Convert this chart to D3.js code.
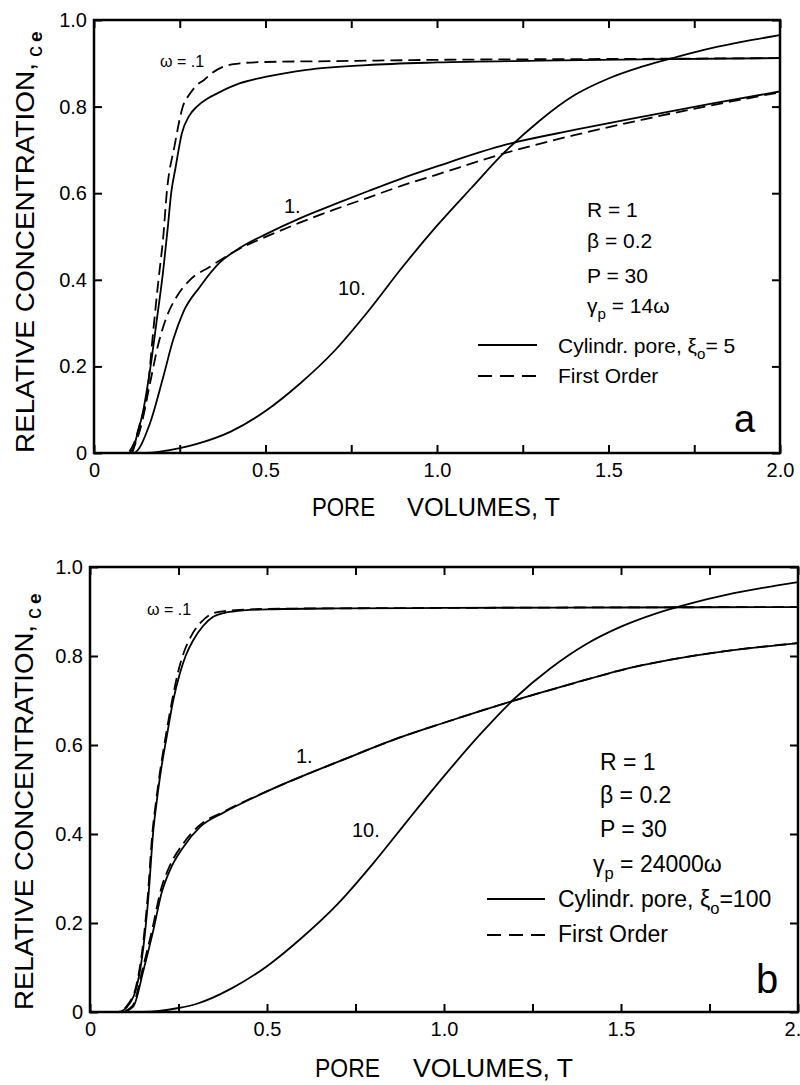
<!DOCTYPE html>
<html>
<head>
<meta charset="utf-8">
<script src="https://cdn.jsdelivr.net/npm/d3@7"></script>
<style>
  body { margin: 0; background: #fff; }
  svg { display: block; }
  text { font-family: "Liberation Sans", Arial, sans-serif; fill: #000; }
</style>
</head>
<body>
<svg id="chart" width="800" height="1085"></svg>
<script>
// axis ticks
const xTicks = [0, 0.25, 0.5, 0.75, 1.0, 1.25, 1.5, 1.75, 2.0];
const xLabels = ['0', '', '0.5', '', '1.0', '', '1.5', '', '2.0'];
const yTicks = [0, 0.2, 0.4, 0.6, 0.8, 1.0];
const yLabels = ['0', '0.2', '0.4', '0.6', '0.8', '1.0'];

// panel a: cylindrical pore, xi_o = 5 (solid) and first order (dashed)
const aT_w01_cyl = [0, 0.11, 0.125, 0.144, 0.163, 0.183, 0.202, 0.215, 0.225, 0.238, 0.256, 0.277, 0.30, 0.33, 0.358, 0.426, 0.503, 0.62, 0.795, 1.0, 1.3, 1.6, 2.0];
const aC_w01_cyl = [0, 0, 0.04, 0.10, 0.19, 0.307, 0.423, 0.52, 0.60, 0.66, 0.738, 0.778, 0.80, 0.818, 0.83, 0.854, 0.869, 0.885, 0.896, 0.902, 0.906, 0.909, 0.912];
const aT_w01_fo = [0, 0.095, 0.115, 0.134, 0.154, 0.173, 0.188, 0.202, 0.212, 0.235, 0.259, 0.28, 0.30, 0.32, 0.345, 0.377, 0.426, 0.5, 0.7, 1.0, 1.5, 2.0];
const aC_w01_fo = [0, 0, 0.02, 0.068, 0.13, 0.284, 0.40, 0.50, 0.60, 0.71, 0.80, 0.83, 0.85, 0.861, 0.878, 0.892, 0.90, 0.903, 0.905, 0.908, 0.91, 0.912];
const aT_w1_cyl = [0, 0.115, 0.163, 0.202, 0.231, 0.26, 0.309, 0.367, 0.426, 0.5, 0.6, 0.7, 0.8, 0.9, 1.0, 1.2, 1.4, 1.6, 1.8, 2.0];
const aC_w1_cyl = [0, 0, 0.068, 0.176, 0.262, 0.325, 0.384, 0.44, 0.474, 0.505, 0.542, 0.574, 0.605, 0.635, 0.662, 0.712, 0.746, 0.777, 0.807, 0.835];
const aT_w1_fo = [0, 0.1, 0.134, 0.163, 0.188, 0.212, 0.241, 0.28, 0.338, 0.377, 0.435, 0.5, 0.6, 0.7, 0.8, 0.9, 1.0, 1.2, 1.4, 1.6, 1.8, 2.0];
const aC_w1_fo = [0, 0, 0.053, 0.16, 0.253, 0.315, 0.361, 0.40, 0.43, 0.45, 0.476, 0.499, 0.532, 0.562, 0.59, 0.618, 0.643, 0.693, 0.734, 0.77, 0.803, 0.833];
const aT_w10_cyl = [0, 0.15, 0.25, 0.3, 0.4, 0.5, 0.6, 0.7, 0.8, 0.9, 1.0, 1.1, 1.2, 1.3, 1.4, 1.5, 1.6, 1.7, 1.8, 1.9, 2.0];
const aC_w10_cyl = [0, 0, 0.011, 0.021, 0.05, 0.097, 0.16, 0.235, 0.328, 0.43, 0.525, 0.612, 0.697, 0.768, 0.826, 0.865, 0.893, 0.915, 0.935, 0.951, 0.965];

// panel b: cylindrical pore, xi_o = 100 (solid) and first order (dashed)
const bT_w01_cyl = [0, 0.08, 0.113, 0.132, 0.151, 0.165, 0.179, 0.188, 0.198, 0.217, 0.235, 0.254, 0.27, 0.292, 0.32, 0.348, 0.38, 0.404, 0.5, 0.7, 1.0, 1.5, 2.0];
const bC_w01_cyl = [0, 0, 0.02, 0.057, 0.147, 0.259, 0.409, 0.47, 0.53, 0.62, 0.70, 0.761, 0.80, 0.836, 0.868, 0.888, 0.897, 0.90, 0.905, 0.907, 0.908, 0.909, 0.91];
const bT_w01_fo = [0, 0.078, 0.11, 0.13, 0.149, 0.163, 0.177, 0.186, 0.196, 0.214, 0.232, 0.25, 0.266, 0.288, 0.316, 0.345, 0.38, 0.41, 0.5, 1.0, 2.0];
const bC_w01_fo = [0, 0, 0.02, 0.057, 0.147, 0.259, 0.409, 0.47, 0.53, 0.62, 0.70, 0.768, 0.81, 0.848, 0.878, 0.895, 0.901, 0.903, 0.906, 0.908, 0.91];
const bT_w1_cyl = [0, 0.09, 0.122, 0.151, 0.179, 0.202, 0.226, 0.264, 0.311, 0.377, 0.452, 0.546, 0.6, 0.7, 0.876, 1.0, 1.186, 1.35, 1.535, 1.75, 2.0];
const bC_w1_cyl = [0, 0, 0.012, 0.094, 0.184, 0.267, 0.319, 0.371, 0.416, 0.448, 0.478, 0.512, 0.53, 0.562, 0.617, 0.65, 0.697, 0.735, 0.775, 0.806, 0.829];
const bT_w1_fo = [0, 0.088, 0.12, 0.149, 0.177, 0.2, 0.224, 0.262, 0.31, 0.377, 0.452, 0.546, 0.6, 0.7, 0.876, 1.0, 1.186, 1.35, 1.535, 1.75, 2.0];
const bC_w1_fo = [0, 0, 0.014, 0.098, 0.19, 0.274, 0.326, 0.377, 0.42, 0.45, 0.479, 0.512, 0.53, 0.562, 0.617, 0.65, 0.697, 0.735, 0.775, 0.806, 0.829];
const bT_w10_cyl = [0, 0.15, 0.25, 0.3, 0.4, 0.5, 0.6, 0.7, 0.8, 0.9, 1.0, 1.1, 1.2, 1.3, 1.4, 1.5, 1.6, 1.7, 1.8, 1.9, 2.0];
const bC_w10_cyl = [0, 0, 0.009, 0.018, 0.053, 0.103, 0.168, 0.243, 0.334, 0.433, 0.53, 0.622, 0.705, 0.772, 0.826, 0.866, 0.896, 0.919, 0.938, 0.953, 0.966];

const svg = d3.select('#chart');

function addText(g, x, y, parts, size, anchor) {
  const t = g.append('text').attr('x', x).attr('y', y)
    .attr('font-size', size).attr('text-anchor', anchor || 'start');
  let shift = 0;
  parts.forEach(p => {
    const sub = typeof p !== 'string';
    const want = sub ? 0.3 * size : 0;
    t.append('tspan').attr('dy', want - shift)
      .attr('font-size', sub ? size * 0.72 : size)
      .text(sub ? p.sub : p);
    shift = want;
  });
  return t;
}

function drawPanel(box, series, o) {
  const x = d3.scaleLinear().domain([0, 2]).range([box.left, box.right]);
  const y = d3.scaleLinear().domain([0, 1]).range([box.bottom, box.top]);
  const g = svg.append('g');

  const line = d3.line().x(d => x(d[0])).y(d => y(d[1])).curve(d3.curveMonotoneX);
  // dashed first so solid lines sit on top
  series.slice().sort((p, q) => q.dashed - p.dashed).forEach(s => {
    g.append('path').datum(d3.zip(s.t, s.c)).attr('d', line)
      .attr('fill', 'none').attr('stroke', '#000').attr('stroke-width', 1.8)
      .attr('stroke-dasharray', s.dashed ? '12,6' : null);
  });

  const styleAxis = sel => {
    sel.select('.domain').remove();
    sel.selectAll('line').attr('stroke', '#000').attr('stroke-width', 2);
    sel.selectAll('text').attr('font-size', 20).attr('font-family', '"Liberation Sans", Arial, sans-serif');
  };
  g.append('g').attr('transform', `translate(0,${box.bottom})`)
    .call(d3.axisBottom(x).tickValues(xTicks).tickFormat((d, i) => xLabels[i]).tickSize(-8).tickPadding(10))
    .call(styleAxis);
  g.append('g').attr('transform', `translate(0,${box.top})`)
    .call(d3.axisTop(x).tickValues(xTicks).tickFormat('').tickSize(-8))
    .call(styleAxis);
  g.append('g').attr('transform', `translate(${box.left},0)`)
    .call(d3.axisLeft(y).tickValues(yTicks).tickFormat((d, i) => yLabels[i]).tickSize(-8).tickPadding(7))
    .call(styleAxis);
  g.append('g').attr('transform', `translate(${box.right},0)`)
    .call(d3.axisRight(y).tickValues(yTicks).tickFormat('').tickSize(-8))
    .call(styleAxis);

  g.append('rect').attr('x', box.left).attr('y', box.top)
    .attr('width', box.right - box.left).attr('height', box.bottom - box.top)
    .attr('fill', 'none').attr('stroke', '#000').attr('stroke-width', 2.5);

  // axis titles
  g.append('text').attr('x', o.xTitle[0]).attr('y', o.xTitle[2]).attr('font-size', 25)
    .attr('textLength', o.xTitle[1]).attr('lengthAdjust', 'spacingAndGlyphs').text('PORE');
  g.append('text').attr('x', o.xTitle[3]).attr('y', o.xTitle[2]).attr('font-size', 25)
    .attr('textLength', o.xTitle[4]).attr('lengthAdjust', 'spacingAndGlyphs').text('VOLUMES, T');

  const yt = o.yTitle; // [baselineX, startY, length]
  g.append('text').attr('transform', `translate(${yt[0]},${yt[1]}) rotate(-90)`)
    .attr('font-size', 26).attr('textLength', yt[2]).attr('lengthAdjust', 'spacingAndGlyphs')
    .text('RELATIVE  CONCENTRATION,');
  g.append('text').attr('transform', `translate(${yt[0] + 8},${yt[1] - yt[2] - 6}) rotate(-90)`)
    .attr('font-size', 22).text('c');
  g.append('text').attr('transform', `translate(${yt[0] + 8},${yt[1] - yt[2] - 21}) rotate(-90)`)
    .attr('font-size', 19).attr('font-weight', 'bold').text('e');

  // curve labels
  addText(g, o.wLabel[0], o.wLabel[1], ['ω = .1'], 16);
  addText(g, o.oneLabel[0], o.oneLabel[1], ['1.'], 20);
  addText(g, o.tenLabel[0], o.tenLabel[1], ['10.'], 20);

  // parameter block
  const n = o.notes;
  const fs = n.size;
  addText(g, n.x, n.y[0], ['R = 1'], fs);
  addText(g, n.x, n.y[1], ['β = 0.2'], fs);
  addText(g, n.x, n.y[2], ['P = 30'], fs);
  addText(g, n.gx, n.y[3], ['γ', { sub: 'p' }, ' = ' + o.gamma], fs);
  addText(g, n.tx, n.y[4], ['Cylindr. pore, ξ', { sub: 'o' }, o.xi], fs);
  addText(g, n.tx, n.y[5], ['First  Order'], fs);
  g.append('line').attr('x1', n.lx[0]).attr('x2', n.lx[1])
    .attr('y1', n.y[4] - 8).attr('y2', n.y[4] - 8)
    .attr('stroke', '#000').attr('stroke-width', 1.8);
  g.append('line').attr('x1', n.lx[0]).attr('x2', n.lx[1])
    .attr('y1', n.y[5] - 7).attr('y2', n.y[5] - 7)
    .attr('stroke', '#000').attr('stroke-width', 1.8).attr('stroke-dasharray', '14,8');

  g.append('text').attr('x', o.letter[0]).attr('y', o.letter[1])
    .attr('font-size', o.letter[3]).text(o.letter[2]);
}

drawPanel({ left: 94, top: 20, right: 780, bottom: 453 }, [
  { t: aT_w01_cyl, c: aC_w01_cyl, dashed: false },
  { t: aT_w01_fo, c: aC_w01_fo, dashed: true },
  { t: aT_w1_cyl, c: aC_w1_cyl, dashed: false },
  { t: aT_w1_fo, c: aC_w1_fo, dashed: true },
  { t: aT_w10_cyl, c: aC_w10_cyl, dashed: false }
], {
  xTitle: [312, 63, 516, 407, 153],
  yTitle: [34, 453, 390],
  wLabel: [160, 67],
  oneLabel: [284, 213],
  tenLabel: [338, 295],
  gamma: '14ω',
  xi: '= 5',
  notes: { size: 21, x: 587, gx: 587, tx: 558, lx: [478, 537], y: [217, 248, 283, 313, 353, 383] },
  letter: [734, 432, 'a', 38]
});

drawPanel({ left: 90, top: 567, right: 798, bottom: 1012 }, [
  { t: bT_w01_cyl, c: bC_w01_cyl, dashed: false },
  { t: bT_w01_fo, c: bC_w01_fo, dashed: true },
  { t: bT_w1_cyl, c: bC_w1_cyl, dashed: false },
  { t: bT_w1_fo, c: bC_w1_fo, dashed: true },
  { t: bT_w10_cyl, c: bC_w10_cyl, dashed: false }
], {
  xTitle: [315, 65, 1077, 413, 160],
  yTitle: [33, 1010, 385],
  wLabel: [147, 615],
  oneLabel: [296, 763],
  tenLabel: [352, 837],
  gamma: '24000ω',
  xi: '=100',
  notes: { size: 23, x: 600, gx: 593, tx: 558, lx: [487, 545], y: [770, 803, 837, 872, 907, 942] },
  letter: [756, 993, 'b', 40]
});
</script>
</body>
</html>
